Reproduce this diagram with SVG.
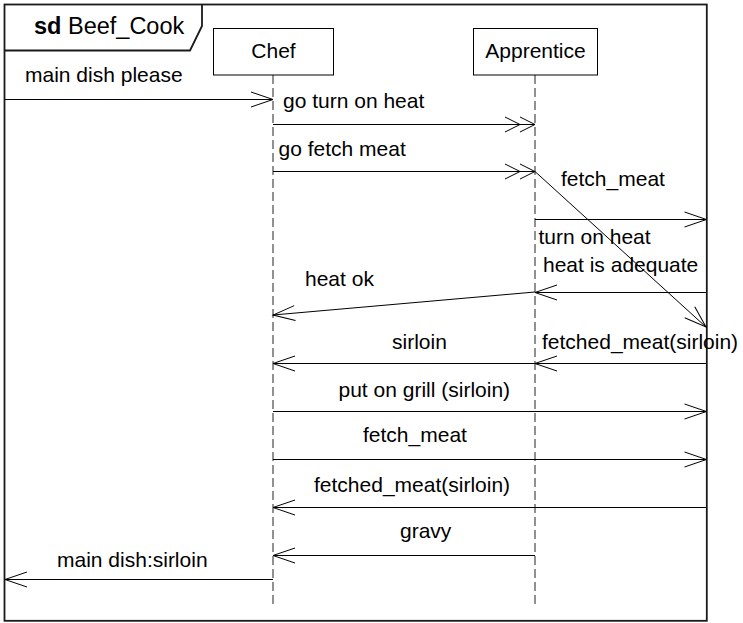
<svg xmlns="http://www.w3.org/2000/svg" width="743" height="623" viewBox="0 0 743 623">
  <style>
    text { font-family: "Liberation Sans", Arial, sans-serif; font-size: 21px; fill: #000; }
    .title { font-size: 23.5px; }
    .frame { fill: none; stroke: #1a1a1a; stroke-width: 1.8; }
    .box { fill: #fff; stroke: #000; stroke-width: 1; }
    .life { stroke: #222; stroke-width: 1; stroke-dasharray: 9 4; }
    .msg { fill: none; stroke: #000; stroke-width: 1; marker-end: url(#open); }
    .async { fill: none; stroke: #000; stroke-width: 1; marker-end: url(#open2); }
    .mid { text-anchor: middle; }
  </style>
  <defs>
    <marker id="open" markerUnits="userSpaceOnUse" markerWidth="30" markerHeight="20" viewBox="-24 -10 26 20" refX="0" refY="0" orient="auto" overflow="visible">
      <path d="M-22,-7.5 L0,0 L-22,7.5" fill="none" stroke="#000" stroke-width="1"/>
    </marker>
    <marker id="open2" markerUnits="userSpaceOnUse" markerWidth="34" markerHeight="20" viewBox="-32 -10 34 20" refX="0" refY="0" orient="auto" overflow="visible">
      <path d="M-15,-7.5 L0,0 L-15,7.5 M-30,-7.5 L-15,0 L-30,7.5" fill="none" stroke="#000" stroke-width="1"/>
    </marker>
  </defs>

  <rect width="743" height="623" fill="#fff"/>

  <!-- interaction frame with its name tab -->
  <g id="frame">
    <rect class="frame" x="4.5" y="4.5" width="702.3" height="616.3"/>
    <path class="frame" d="M4.5,50.5 H190 L202,26 V4.5"/>
    <text class="title" x="34" y="34"><tspan font-weight="bold">sd</tspan> Beef_Cook</text>
  </g>

  <!-- lifelines -->
  <g id="chef">
    <line class="life" x1="273" y1="75" x2="273" y2="608"/>
    <rect class="box" x="213.5" y="28.5" width="120" height="46.5"/>
    <text class="mid" x="273.5" y="58">Chef</text>
  </g>
  <g id="apprentice">
    <line class="life" x1="535" y1="75" x2="535" y2="608"/>
    <rect class="box" x="473.5" y="28.5" width="124" height="46.5"/>
    <text class="mid" x="535.5" y="58">Apprentice</text>
  </g>

  <!-- messages -->
  <g id="connectors">
    <line class="msg" x1="5" y1="99.5" x2="273" y2="99.5"/>
    <text x="25" y="82">main dish please</text>

    <line class="async" x1="273" y1="124.5" x2="535" y2="124.5"/>
    <text x="283" y="108">go turn on heat</text>

    <line class="async" x1="273" y1="171.5" x2="535" y2="171.5"/>
    <text x="278.5" y="156">go fetch meat</text>

    <line class="msg" x1="535" y1="171.5" x2="706" y2="327"/>

    <line class="msg" x1="535" y1="219.5" x2="706.5" y2="219.5"/>
    <text x="561" y="186">fetch_meat</text>

    <text x="538.5" y="243.5">turn on heat</text>

    <line class="msg" x1="706.5" y1="292.5" x2="535" y2="292.5"/>
    <text x="543" y="272">heat is adequate</text>

    <line class="msg" x1="535" y1="292" x2="273" y2="315"/>
    <text x="305" y="286">heat ok</text>

    <line class="msg" x1="706.5" y1="363.5" x2="535" y2="363.5"/>
    <text x="542" y="349">fetched_meat(sirloin)</text>

    <line class="msg" x1="535" y1="363.5" x2="273" y2="363.5"/>
    <text x="392" y="349">sirloin</text>

    <line class="msg" x1="273" y1="411.5" x2="706.5" y2="411.5"/>
    <text x="338.5" y="397">put on grill (sirloin)</text>

    <line class="msg" x1="273" y1="459.5" x2="706.5" y2="459.5"/>
    <text x="363" y="442">fetch_meat</text>

    <line class="msg" x1="706.5" y1="507.5" x2="273" y2="507.5"/>
    <text x="314" y="492">fetched_meat(sirloin)</text>

    <line class="msg" x1="535" y1="555.5" x2="273" y2="555.5"/>
    <text x="400" y="538">gravy</text>

    <line class="msg" x1="273" y1="579.5" x2="5" y2="579.5"/>
    <text x="57" y="567">main dish:sirloin</text>
  </g>
</svg>
